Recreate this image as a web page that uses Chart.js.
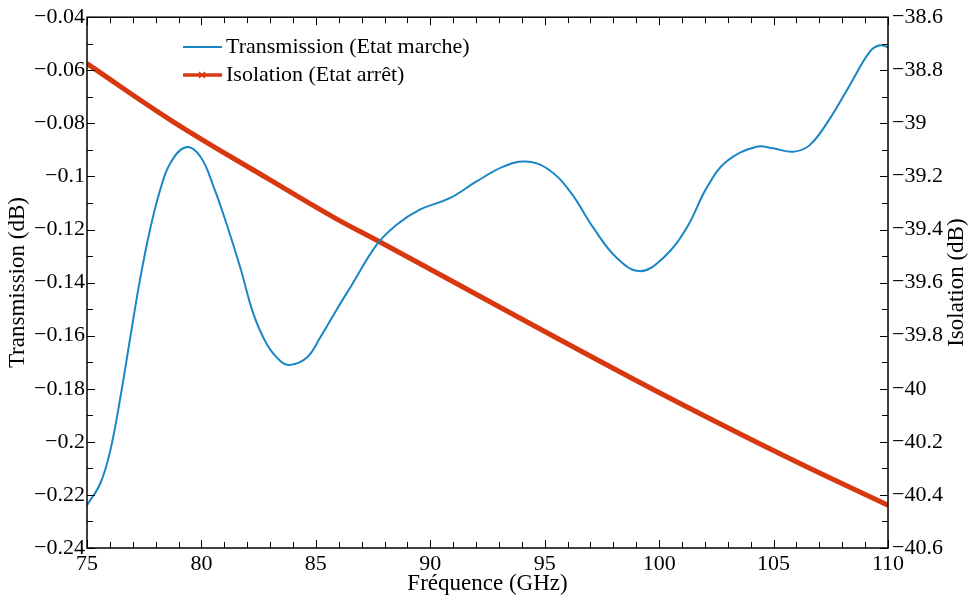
<!DOCTYPE html>
<html>
<head>
<meta charset="utf-8">
<script src="https://cdn.jsdelivr.net/npm/chart.js@4.4.1/dist/chart.umd.min.js"></script>
<style>
  body { margin: 0; background: #fff; }
  canvas { display: block; }
</style>
</head>
<body>
<canvas id="chart" width="969" height="601"></canvas>
<script>
// ================= DATA =================
const freqTransmission = [75, 75.58, 76.02, 76.46, 76.89, 77.33, 77.77, 78.2, 78.64, 79.32, 79.95, 80.53, 81.11, 81.7, 82.28, 82.86, 83.45, 83.88, 84.61, 85.19, 85.92, 86.49, 87.66, 88.53, 89.54, 90.85, 92.02, 93.19, 94.15, 95.09, 96.11, 97.13, 98.15, 99.16, 100.18, 101.2, 102.07, 102.94, 104.25, 104.98, 105.86, 106.58, 107.46, 108.33, 109.2, 109.64, 110];
const transmission = [-0.2239, -0.2157, -0.2032, -0.1832, -0.1607, -0.1382, -0.1194, -0.105, -0.095, -0.089, -0.0925, -0.1038, -0.1182, -0.1344, -0.152, -0.1632, -0.1695, -0.171, -0.1682, -0.1607, -0.150, -0.142, -0.1257, -0.1182, -0.1125, -0.1082, -0.1019, -0.0963, -0.0944, -0.0969, -0.1057, -0.1194, -0.1307, -0.1357, -0.1307, -0.1194, -0.1044, -0.0944, -0.0888, -0.0894, -0.0907, -0.0882, -0.0782, -0.0656, -0.0531, -0.0506, -0.0513];

const freqIsolation = [75, 78.77, 83, 85.8, 87.74, 98.87, 105.28, 110];
const isolation = [-38.775, -38.994, -39.213, -39.355, -39.444, -39.963, -40.245, -40.439];

const seriesNames = ["Transmission (Etat marche)", "Isolation (Etat arrêt)"];
const xTitle = "Fréquence (GHz)";
const yLeftTitle = "Transmission (dB)";
const yRightTitle = "Isolation (dB)";

const BLUE = "#1a86c6";
const RED = "#d8380f";
const FONT = "'Liberation Serif', 'Times New Roman', serif";

const minus = v => String(v).replace("-", "\u2212");

// inward ticks, frame, titles and legend
const decorations = {
    id: "decorations",
    afterDatasetsDraw(chart) {
        const { ctx, chartArea: a, scales } = chart;
        ctx.save();
        ctx.strokeStyle = "#000";
        ctx.lineWidth = 1;
        const seg = (x1, y1, x2, y2) => {
            ctx.beginPath(); ctx.moveTo(x1, y1); ctx.lineTo(x2, y2); ctx.stroke();
        };
        for (let v = 75; v <= 110; v++) {
            const px = Math.round(scales.x.getPixelForValue(v)) + 0.5;
            const len = v % 5 === 0 ? 8 : 6;
            seg(px, a.bottom, px, a.bottom - len);
            seg(px, a.top, px, a.top + len);
        }
        for (let i = 0; i <= 20; i++) {
            const len = i % 2 === 0 ? 8 : 6;
            const py = Math.round(scales.y.getPixelForValue(-0.24 + i * 0.01)) + 0.5;
            seg(a.left, py, a.left + len, py);
            const py1 = Math.round(scales.y1.getPixelForValue(-40.6 + i * 0.1)) + 0.5;
            seg(a.right, py1, a.right - len, py1);
        }
        ctx.lineWidth = 1.5;
        ctx.strokeRect(a.left, a.top, a.right - a.left, a.bottom - a.top);

        // axis titles
        ctx.fillStyle = "#000";
        ctx.font = "23px " + FONT;
        ctx.textAlign = "center";
        ctx.textBaseline = "middle";
        ctx.fillText(xTitle, (a.left + a.right) / 2, 584);
        const midY = (a.top + a.bottom) / 2;
        [[18, yLeftTitle], [957, yRightTitle]].forEach(([x, t]) => {
            ctx.save();
            ctx.translate(x, midY);
            ctx.rotate(-Math.PI / 2);
            ctx.fillText(t, 0, 0);
            ctx.restore();
        });

        // legend
        const colors = [BLUE, RED];
        const widths = [2, 3.5];
        ctx.font = "22px " + FONT;
        ctx.textAlign = "left";
        seriesNames.forEach((name, i) => {
            const y = 47 + i * 28;
            ctx.strokeStyle = colors[i];
            ctx.lineWidth = widths[i];
            seg(183, y, 222, y);
            if (i === 1) {
                ctx.lineWidth = 1.5;
                seg(199, y - 3, 205, y + 3);
                seg(199, y + 3, 205, y - 3);
            }
            ctx.fillStyle = "#000";
            ctx.fillText(name, 226, y);
        });
        ctx.restore();
    }
};

new Chart(document.getElementById("chart"), {
    type: "line",
    data: {
        datasets: [
            {
                label: seriesNames[0],
                data: freqTransmission.map((f, i) => ({ x: f, y: transmission[i] })),
                borderColor: BLUE,
                borderWidth: 2,
                pointRadius: 0,
                tension: 0.4,
                yAxisID: "y",
                fill: false
            },
            {
                label: seriesNames[1],
                data: freqIsolation.map((f, i) => ({ x: f, y: isolation[i] })),
                borderColor: RED,
                borderWidth: 5,
                pointRadius: 0,
                tension: 0.4,
                yAxisID: "y1",
                fill: false
            }
        ]
    },
    options: {
        responsive: false,
        animation: false,
        layout: { padding: { top: 15, left: 0, right: 0, bottom: 0 } },
        plugins: { legend: { display: false }, tooltip: { enabled: false } },
        scales: {
            x: {
                type: "linear",
                min: 75, max: 110,
                grid: { display: false, drawTicks: false },
                border: { display: false },
                ticks: { stepSize: 5, padding: 3, color: "#000", font: { family: FONT, size: 22 } },
                afterFit: s => { s.height = 53; }
            },
            y: {
                position: "left",
                min: -0.24, max: -0.04,
                grid: { display: false, drawTicks: false },
                border: { display: false },
                ticks: { stepSize: 0.02, padding: 2, color: "#000", font: { family: FONT, size: 22 }, callback: v => minus(+v.toFixed(2)) },
                afterFit: s => { s.width = 87; }
            },
            y1: {
                position: "right",
                min: -40.6, max: -38.6,
                grid: { display: false, drawTicks: false },
                border: { display: false },
                ticks: { stepSize: 0.2, padding: 4, color: "#000", font: { family: FONT, size: 22 }, callback: v => minus(+v.toFixed(1)) },
                afterFit: s => { s.width = 81; }
            }
        }
    },
    plugins: [decorations]
});
</script>
</body>
</html>
